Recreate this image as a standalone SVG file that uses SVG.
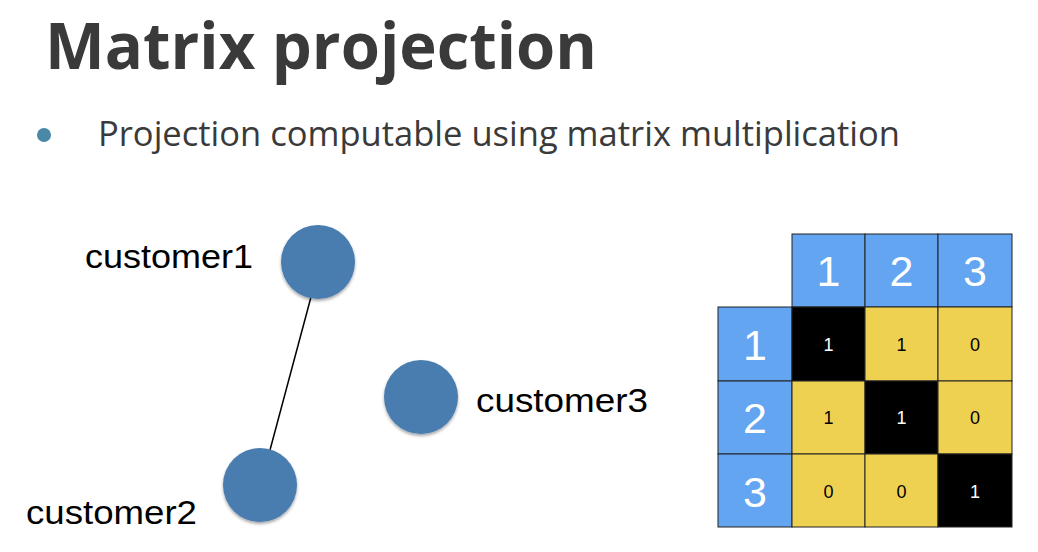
<svg xmlns="http://www.w3.org/2000/svg" width="1038" height="552" viewBox="0 0 1038 552">
<defs>
<filter id="sh" x="-30%" y="-30%" width="160%" height="160%"><feDropShadow dx="0" dy="2" stdDeviation="1.5" flood-color="#000" flood-opacity="0.35"/></filter>
</defs>
<style>
.title{font-family:"Open Sans","Noto Sans",sans-serif;font-weight:bold;fill:#3a3a3a}
.bul{font-family:"Open Sans","Noto Sans",sans-serif;fill:#3a3a3a}
.lbl{font-family:"Liberation Sans",Arial,sans-serif;font-size:34px;fill:#000}
.node{fill:#4a7db0;filter:url(#sh)}
.hdr{fill:#63a5f0;stroke:#222;stroke-width:1}
.y{fill:#efd152;stroke:#222;stroke-width:1}
.k{fill:#000;stroke:#222;stroke-width:1}
.hn{font-family:"Liberation Sans",Arial,sans-serif;font-size:43px;fill:#fff;text-anchor:middle}
.cn{font-family:"Liberation Sans",Arial,sans-serif;font-size:18px;text-anchor:middle}
</style>
<rect width="1038" height="552" fill="#fff"/>
<text class="title" x="45" y="69" font-size="64" textLength="552" lengthAdjust="spacingAndGlyphs">Matrix projection</text>
<circle cx="44" cy="135" r="7" fill="#4a88a8"/>
<text class="bul" x="98" y="146" font-size="35" textLength="802" lengthAdjust="spacingAndGlyphs">Projection computable using matrix multiplication</text>
<g id="connectors"><line x1="311" y1="297" x2="270" y2="450" stroke="#000" stroke-width="1.5"/></g>
<g id="customer1"><circle class="node" cx="318" cy="262" r="37"/><text class="lbl" x="85" y="268" textLength="168" lengthAdjust="spacingAndGlyphs">customer1</text></g>
<g id="customer2"><circle class="node" cx="260" cy="485" r="37"/><text class="lbl" x="26" y="524" textLength="171" lengthAdjust="spacingAndGlyphs">customer2</text></g>
<g id="customer3"><circle class="node" cx="421" cy="397" r="37"/><text class="lbl" x="476" y="412" textLength="172" lengthAdjust="spacingAndGlyphs">customer3</text></g>
<g id="matrix">
<rect class="hdr" x="792" y="234" width="73" height="73"/><rect class="hdr" x="865" y="234" width="73" height="73"/><rect class="hdr" x="938" y="234" width="74" height="73"/>
<rect class="hdr" x="718" y="307" width="74" height="74"/><rect class="hdr" x="718" y="381" width="74" height="73"/><rect class="hdr" x="718" y="454" width="74" height="73"/>
<text class="hn" x="828.5" y="286">1</text><text class="hn" x="901.5" y="286">2</text><text class="hn" x="975" y="286">3</text>
<text class="hn" x="755" y="360">1</text><text class="hn" x="755" y="433">2</text><text class="hn" x="755" y="507">3</text>
<rect class="k" x="792" y="307" width="73" height="74"/><rect class="y" x="865" y="307" width="73" height="74"/><rect class="y" x="938" y="307" width="74" height="74"/>
<rect class="y" x="792" y="381" width="73" height="73"/><rect class="k" x="865" y="381" width="73" height="73"/><rect class="y" x="938" y="381" width="74" height="73"/>
<rect class="y" x="792" y="454" width="73" height="73"/><rect class="y" x="865" y="454" width="73" height="73"/><rect class="k" x="938" y="454" width="74" height="73"/>
<text class="cn" x="828.5" y="351" fill="#fff">1</text><text class="cn" x="901.5" y="351" fill="#000">1</text><text class="cn" x="975" y="351" fill="#000">0</text>
<text class="cn" x="828.5" y="424" fill="#000">1</text><text class="cn" x="901.5" y="424" fill="#fff">1</text><text class="cn" x="975" y="424" fill="#000">0</text>
<text class="cn" x="828.5" y="498" fill="#000">0</text><text class="cn" x="901.5" y="498" fill="#000">0</text><text class="cn" x="975" y="498" fill="#fff">1</text>
</g>
</svg>
